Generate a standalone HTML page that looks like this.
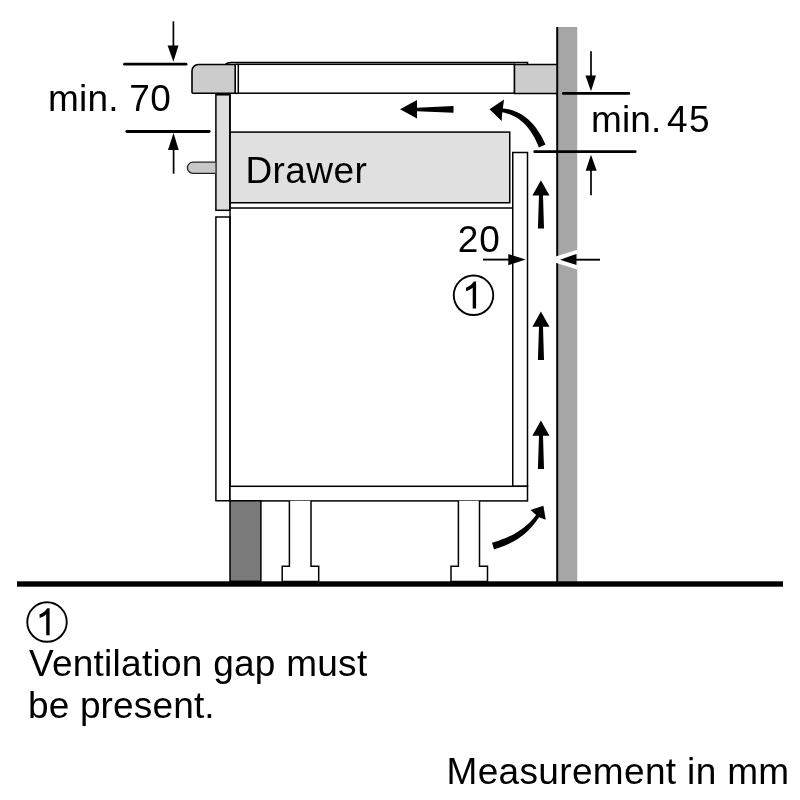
<!DOCTYPE html>
<html><head><meta charset="utf-8">
<style>
html,body{margin:0;padding:0;background:#fff;}
svg{display:block;will-change:transform;}
text{font-family:"Liberation Sans",sans-serif;fill:#000;}
</style></head>
<body>
<svg width="800" height="800" viewBox="0 0 800 800">
<rect x="0" y="0" width="800" height="800" fill="#fff"/>
<!-- wall -->
<rect x="557.5" y="27" width="19.75" height="555" fill="#a6a6a6"/>
<line x1="557.2" y1="27" x2="557.2" y2="582" stroke="#000" stroke-width="2"/>
<!-- cooktop -->
<path d="M225.6 64.5 C226.6 63.2 228.2 62.5 231.5 62.5 L527.5 62.5 L527.5 64.3" fill="none" stroke="#000" stroke-width="1.5"/>
<path d="M193 93.2 Q192 93.2 192 92.2 L192 70.8 A6.3 6.3 0 0 1 198.3 64.5 L235.2 64.5 L235.2 93.2 Z" fill="#cccccc" stroke="#000" stroke-width="1.6"/>
<rect x="238.3" y="64.3" width="276.2" height="28.9" fill="#fff" stroke="#000" stroke-width="1.5"/>
<line x1="235.2" y1="64.3" x2="238.3" y2="64.3" stroke="#000" stroke-width="1.5"/>
<line x1="235.2" y1="93.3" x2="238.3" y2="93.3" stroke="#000" stroke-width="1.5"/>
<rect x="514.5" y="64.5" width="42.5" height="29" fill="#cccccc" stroke="#000" stroke-width="1.5"/>
<!-- front panel -->
<rect x="215.9" y="94" width="14" height="116.3" fill="#dedede" stroke="#000" stroke-width="1.5"/>
<line x1="215.9" y1="94.3" x2="229.9" y2="94.3" stroke="#000" stroke-width="2.5"/>
<!-- handle -->
<path d="M215.4 162.2 L193 162.2 A5.6 5.6 0 0 0 193 173.4 L215.4 173.4" fill="#c8c8c8" stroke="#222" stroke-width="1.3"/>
<!-- drawer -->
<rect x="230" y="132.1" width="279.75" height="70.65" fill="#e0e0e0" stroke="#000" stroke-width="1.5"/>
<text x="245.5" y="183.4" font-size="37" letter-spacing="0.4">Drawer</text>
<line x1="230" y1="208" x2="512.75" y2="208" stroke="#000" stroke-width="1.5"/>
<!-- back panel -->
<rect x="512.75" y="152.5" width="14.75" height="333.8" fill="#fff" stroke="#000" stroke-width="1.5"/>
<!-- cabinet side -->
<rect x="215.9" y="217" width="14.1" height="283.75" fill="#fff" stroke="#000" stroke-width="1.5"/>
<line x1="230" y1="94" x2="230" y2="500.8" stroke="#000" stroke-width="1.5"/>
<!-- base board -->
<rect x="230" y="486.3" width="297.5" height="14.6" fill="#fff" stroke="#000" stroke-width="1.5"/>
<!-- plinth -->
<rect x="230" y="500.8" width="30.9" height="80.5" fill="#7a7a7a" stroke="#000" stroke-width="1.5"/>
<!-- legs -->
<path d="M289.4 500.8 L289.4 566.3 L282.2 566.3 L282.2 581.5 L318.7 581.5 L318.7 566.3 L311 566.3 L311 500.8" fill="#fff" stroke="#000" stroke-width="1.5"/>
<path d="M458.4 500.8 L458.4 566.3 L451 566.3 L451 581.5 L487.5 581.5 L487.5 566.3 L479.5 566.3 L479.5 500.8" fill="#fff" stroke="#000" stroke-width="1.5"/>
<!-- ground -->
<rect x="17" y="581.3" width="766" height="5.4" fill="#000"/>
<!-- up arrows -->
<path d="M540.9 180.3 L549.5 195.6 L543 195.6 L544 228.4 L537.9 228.4 L539 195.6 L532.4 195.6 Z" fill="#000"/>
<path d="M540.9 311.4 L549.5 326.7 L543 326.7 L544 359.9 L537.9 359.9 L539 326.7 L532.4 326.7 Z" fill="#000"/>
<path d="M540.9 420.5 L549.5 435.8 L543 435.8 L544 469 L537.9 469 L539 435.8 L532.4 435.8 Z" fill="#000"/>
<!-- left arrow -->
<path d="M400 109.2 L417 100 L417 107.8 L453.5 106 L453.5 112.8 L417 111.2 L417 118.5 Z" fill="#000"/>
<!-- top curved arrow -->
<path d="M489.5 109.2 L504.1 99.5 L502.76 108.47 505.47 108.73 508.09 109.19 510.63 109.81 513.08 110.56 515.46 111.45 517.75 112.46 519.97 113.60 522.10 114.85 524.16 116.22 526.13 117.70 528.03 119.28 529.85 120.96 531.60 122.73 533.28 124.59 534.88 126.53 536.42 128.56 537.89 130.65 539.31 132.82 540.66 135.06 541.95 137.36 543.19 139.72 544.38 142.13 545.51 144.59 L538.89 147.41 537.91 145.05 536.90 142.75 535.84 140.51 534.74 138.34 533.59 136.23 532.40 134.19 531.15 132.22 529.86 130.32 528.50 128.50 527.10 126.76 525.63 125.10 524.10 123.53 522.51 122.04 520.85 120.63 519.12 119.32 517.31 118.09 515.43 116.96 513.46 115.92 511.40 114.98 509.26 114.14 507.02 113.39 504.68 112.74 502.24 112.13 L501.65 121 Z" fill="#000"/>
<!-- bottom curved arrow -->
<path d="M543.4 505.8 L545.75 519.8 L539.11 517.16 537.60 519.37 536.07 521.49 534.51 523.52 532.92 525.46 531.29 527.31 529.63 529.09 527.94 530.78 526.20 532.40 524.42 533.94 522.60 535.42 520.72 536.82 518.81 538.16 516.84 539.43 514.82 540.65 512.74 541.80 510.62 542.91 508.44 543.96 506.20 544.97 503.90 545.93 501.54 546.85 499.12 547.73 496.63 548.58 494.07 549.40 L492.03 542.70 494.49 541.94 496.88 541.17 499.20 540.39 501.46 539.59 503.65 538.77 505.78 537.92 507.85 537.03 509.87 536.12 511.84 535.16 513.76 534.16 515.65 533.11 517.49 532.01 519.30 530.85 521.07 529.62 522.82 528.33 524.55 526.97 526.25 525.54 527.94 524.02 529.61 522.41 531.27 520.72 532.92 518.93 534.56 517.04 536.19 515.04 L530.5 509.9 Z" fill="#000"/>
<!-- dimension min 70 -->
<line x1="124.6" y1="64.2" x2="186" y2="64.2" stroke="#000" stroke-width="2.8" stroke-linecap="round"/>
<line x1="173.4" y1="21.3" x2="173.4" y2="47" stroke="#000" stroke-width="1.7"/>
<path d="M167.6 45.6 L178.5 45.6 L173.4 61.8 Z" fill="#000"/>
<line x1="126.8" y1="131.5" x2="209.2" y2="131.5" stroke="#000" stroke-width="2.8" stroke-linecap="round"/>
<line x1="173.6" y1="149" x2="173.6" y2="173.7" stroke="#000" stroke-width="1.7"/>
<path d="M173.5 133 L178.75 150 L168 150 Z" fill="#000"/>
<text x="48" y="111" font-size="37" letter-spacing="0.17">min.</text><text x="129.2" y="111" font-size="37" letter-spacing="0.6">70</text>
<!-- dimension min 45 -->
<line x1="563.3" y1="93.4" x2="628.8" y2="93.4" stroke="#000" stroke-width="2.8" stroke-linecap="round"/>
<line x1="591" y1="51.3" x2="591" y2="77" stroke="#000" stroke-width="1.7"/>
<path d="M585.4 75.6 L596 75.6 L591 91.3 Z" fill="#000"/>
<line x1="534.75" y1="151.7" x2="635.2" y2="151.7" stroke="#000" stroke-width="2.8" stroke-linecap="round"/>
<line x1="591" y1="169" x2="591" y2="195.2" stroke="#000" stroke-width="1.7"/>
<path d="M591 154.7 L596.7 170.8 L585.7 170.8 Z" fill="#000"/>
<text x="591" y="132" font-size="37" letter-spacing="0.1">min.</text><text x="667" y="132" font-size="37" letter-spacing="1.3">45</text>
<!-- 20 gap -->
<text x="457.7" y="251.9" font-size="37" letter-spacing="1">20</text>
<line x1="483" y1="259.6" x2="510" y2="259.6" stroke="#000" stroke-width="1.9"/>
<path d="M508.3 254 L525.6 259.6 L508.3 265.2 Z" fill="#000"/>
<path d="M555.6 256.6 L577.3 249.8 L577.3 269.6 L555.6 262.8 Z" fill="#fff"/>
<path d="M560 259.65 L576.5 253.9 L576.5 265.1 Z" fill="#000"/>
<line x1="575" y1="259.7" x2="600" y2="259.7" stroke="#000" stroke-width="1.9"/>
<!-- circle 1 -->
<circle cx="473.5" cy="295.3" r="19.75" fill="none" stroke="#000" stroke-width="1.9"/>
<path transform="translate(473.5 295.3)" d="M-0.8 13.15 L2.6 13.15 L2.6 -13.8 L0.3 -13.8 C-1.6 -10.9 -4.1 -8.9 -7.5 -7.6 L-7.3 -4.1 C-4.8 -4.9 -2.5 -6.1 -0.8 -7.6 Z" fill="#000"/>
<!-- legend -->
<circle cx="47" cy="622.05" r="19.75" fill="none" stroke="#000" stroke-width="1.9"/>
<path transform="translate(47 622.05)" d="M-0.8 13.15 L2.6 13.15 L2.6 -13.8 L0.3 -13.8 C-1.6 -10.9 -4.1 -8.9 -7.5 -7.6 L-7.3 -4.1 C-4.8 -4.9 -2.5 -6.1 -0.8 -7.6 Z" fill="#000"/>
<text x="29" y="676" font-size="37" letter-spacing="0.26">Ventilation gap must</text>
<text x="28" y="718" font-size="37" letter-spacing="0.15">be present.</text>
<text x="446.5" y="784" font-size="37" letter-spacing="0.34">Measurement in mm</text>
</svg>
</body></html>
